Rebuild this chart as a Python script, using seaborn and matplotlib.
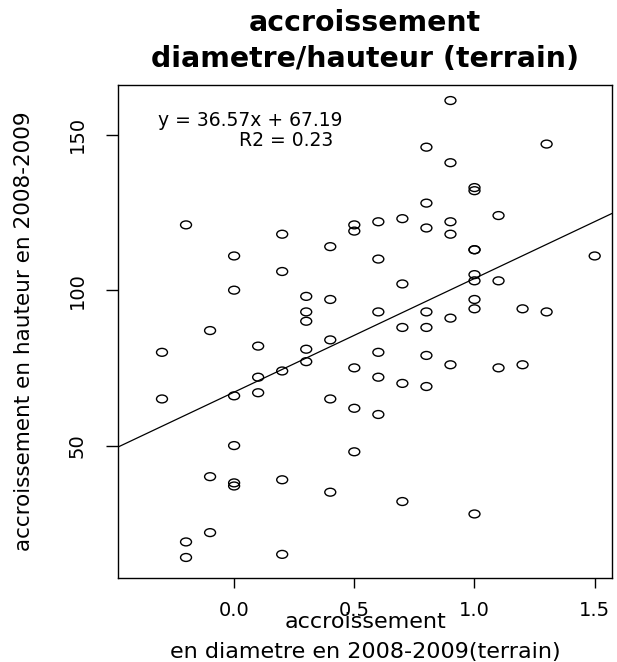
import matplotlib
matplotlib.use("Agg")
import matplotlib.pyplot as plt
from matplotlib.path import Path
from matplotlib.transforms import Affine2D
import seaborn as sns
import pandas as pd

# data
diam = ([-0.3] * 2 + [-0.2] * 3 + [-0.1] * 3 + [0.0] * 6 + [0.1] * 3 + [0.2] * 5 +
        [0.3] * 5 + [0.4] * 5 + [0.5] * 5 + [0.6] * 6 + [0.7] * 5 + [0.8] * 7 +
        [0.9] * 6 + [1.0] * 9 + [1.1] * 3 + [1.2] * 2 + [1.3] * 2 + [1.5] * 1)
haut = [80, 65,
        121, 19, 14,
        87, 40, 22,
        111, 100, 66, 50, 38, 37,
        82, 72, 67,
        118, 106, 74, 39, 15,
        98, 93, 90, 81, 77,
        114, 97, 84, 65, 35,
        121, 119, 75, 62, 48,
        122, 110, 93, 80, 72, 60,
        123, 102, 88, 70, 32,
        146, 128, 120, 93, 88, 79, 69,
        161, 141, 122, 118, 91, 76,
        133, 132, 113, 113, 105, 103, 97, 94, 28,
        124, 103, 75,
        94, 76,
        147, 93,
        111]
slope = 36.57
intercept = 67.19
r2 = 0.23
xticks = [0.0, 0.5, 1.0, 1.5]
yticks = [50, 100, 150]

df = pd.DataFrame({"diam": diam, "haut": haut})

sns.set_style("white")
plt.rcParams["font.family"] = ["DejaVu Sans"]
plt.rcParams["text.color"] = "black"
plt.rcParams["axes.labelcolor"] = "black"
plt.rcParams["xtick.color"] = "black"
plt.rcParams["ytick.color"] = "black"

fig = plt.figure(figsize=(6.17, 6.62), dpi=100)
ax = fig.add_axes([118 / 617, 1 - 578 / 662, (612 - 118) / 617, (578 - 85) / 662])

# slightly flattened open circle (the reference is stretched horizontally)
ellipse = Path.unit_circle().transformed(Affine2D().scale(1.0, 0.72))

sns.scatterplot(data=df, x="diam", y="haut", ax=ax, marker=ellipse, s=62,
                facecolor="none", edgecolor="black", linewidth=1.0)
ax.axline((0, intercept), slope=slope, color="black", linewidth=0.9)

ax.set_xlim(-0.483, 1.572)
ax.set_ylim(7.4, 166)
ax.set_xticks(xticks)
ax.set_xticklabels([f"{v:.1f}" for v in xticks])
ax.set_yticks(yticks)
ax.set_yticklabels([str(v) for v in yticks], rotation=90, va="center")
ax.tick_params(axis="x", direction="out", length=7.5, width=1, labelsize=14,
               pad=9, bottom=True)
ax.tick_params(axis="y", direction="out", length=8.5, width=1, labelsize=14,
               pad=14, left=True)
for s in ax.spines.values():
    s.set_color("black")
    s.set_linewidth(1.0)

ax.set_xlabel("accroissement\nen diametre en 2008-2009(terrain)", fontsize=16,
              labelpad=-5.5, linespacing=1.62)
ax.set_ylabel("accroissement en hauteur en 2008-2009", fontsize=15.5, labelpad=24)
ax.set_title("accroissement\ndiametre/hauteur (terrain)", fontsize=20.4,
             fontweight="bold", pad=13, linespacing=1.34)

ax.text(0.066, 152.8, f"y = {slope}x + {intercept}", fontsize=13.5,
        ha="center", va="baseline")
ax.text(0.216, 146.4, f"R2 = {r2}", fontsize=13.5, ha="center", va="baseline")

fig.savefig("out.png", dpi=100, facecolor="white")
